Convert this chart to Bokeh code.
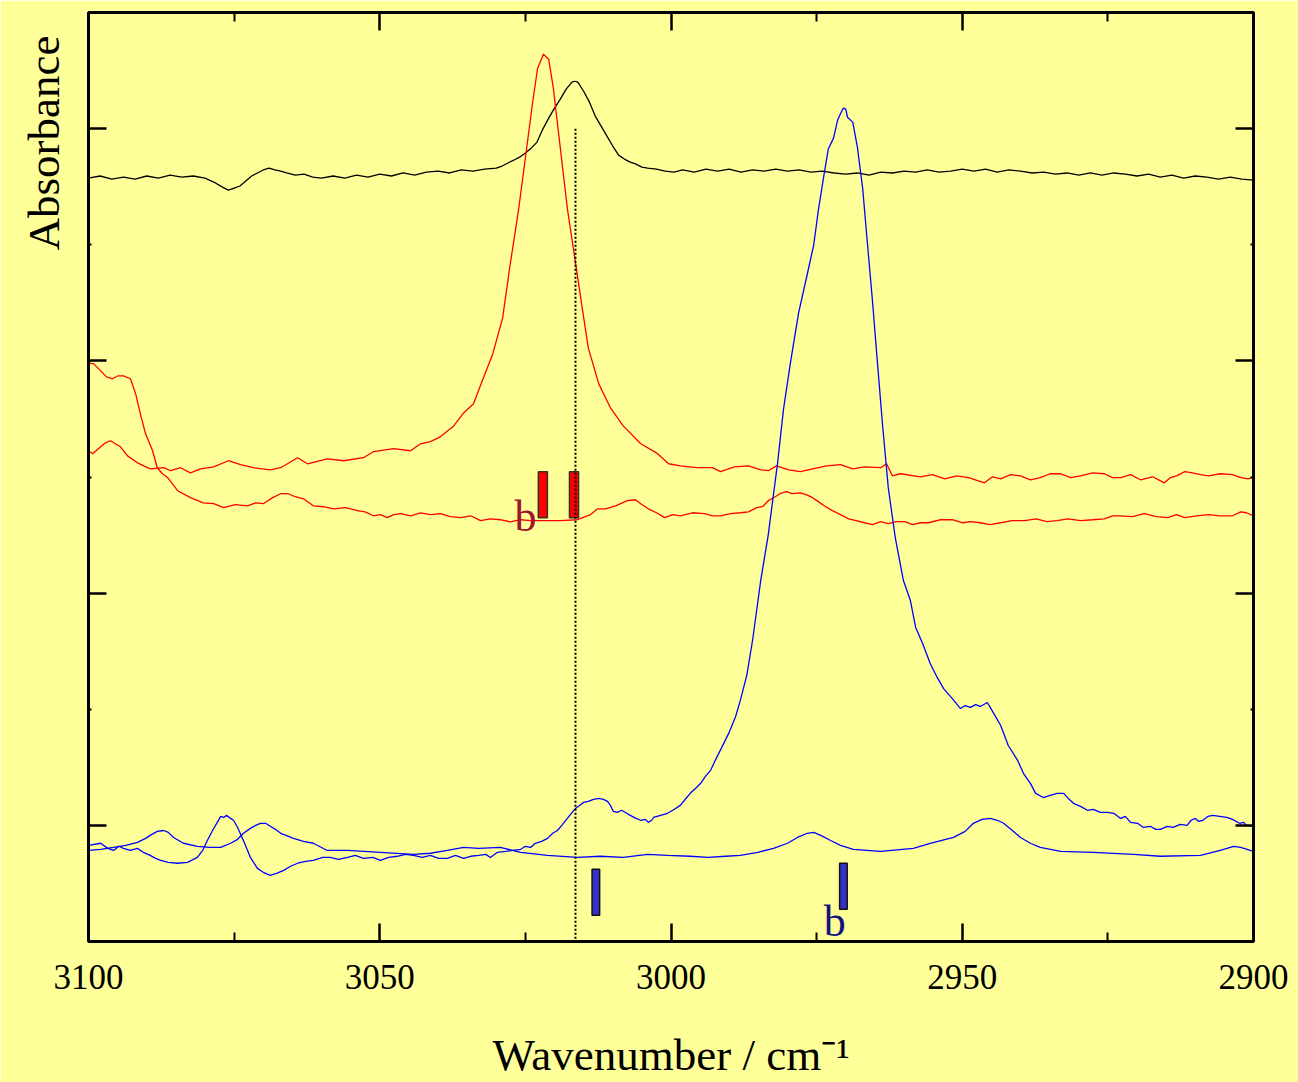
from bokeh.plotting import figure
from bokeh.models import Range1d, FixedTicker, LinearAxis, Title
from bokeh.core.properties import value
from bokeh.embed import file_html
from bokeh.resources import INLINE

FONT = "Liberation Serif"
BG = "#FFFF99"

# ---------------- axis ticks ----------------
x_major = [3100, 3050, 3000, 2950, 2900]
x_minor = [3075, 3025, 2975, 2925]
y_major = [0, 1, 2, 3]
y_minor = [0.5, 1.5, 2.5]

# ---------------- spectra (wavenumber, absorbance a.u.) ----------------
black_pts = [
    (3100, 2.787), (3098, 2.796), (3096, 2.783), (3094, 2.791), (3092, 2.783), (3090, 2.796),
    (3088, 2.787), (3086, 2.800), (3084, 2.791), (3082, 2.796), (3080, 2.787), (3078.5, 2.770),
    (3077, 2.748), (3076, 2.735), (3075, 2.744), (3074, 2.753), (3073, 2.774), (3072, 2.796),
    (3071, 2.809), (3070, 2.822), (3069, 2.830), (3068, 2.822), (3067, 2.817), (3066, 2.809),
    (3064.5, 2.800), (3063, 2.804), (3061.5, 2.791), (3060, 2.787), (3058, 2.796), (3056, 2.787),
    (3054, 2.800), (3052, 2.791), (3050, 2.804), (3048, 2.796), (3046, 2.809), (3044, 2.800),
    (3042, 2.813), (3040, 2.817), (3038, 2.809), (3036, 2.822), (3034, 2.817), (3032, 2.826),
    (3030, 2.830), (3029, 2.839), (3028, 2.852), (3027, 2.864), (3026, 2.877), (3025, 2.895),
    (3024, 2.916), (3023, 2.942), (3022, 2.998), (3021, 3.045), (3020, 3.088), (3019, 3.127),
    (3018, 3.170), (3017, 3.200), (3016.5, 3.204), (3016, 3.200), (3015, 3.161), (3014, 3.114),
    (3013, 3.054), (3012, 3.011), (3011, 2.968), (3010, 2.925), (3009, 2.886), (3008, 2.869),
    (3007, 2.856), (3006, 2.847), (3005, 2.834), (3004, 2.830), (3002.5, 2.826), (3001, 2.817),
    (2999.5, 2.813), (2998, 2.822), (2996, 2.813), (2994, 2.826), (2992, 2.817), (2990, 2.826),
    (2988, 2.813), (2986, 2.822), (2984, 2.817), (2982, 2.826), (2980, 2.817), (2978, 2.822),
    (2976, 2.813), (2974, 2.817), (2972, 2.809), (2970, 2.804), (2968, 2.809), (2966, 2.800),
    (2964, 2.813), (2962, 2.809), (2960, 2.817), (2958, 2.813), (2956, 2.822), (2954, 2.813),
    (2952, 2.817), (2950, 2.826), (2948, 2.817), (2946, 2.826), (2944, 2.813), (2942, 2.822),
    (2940, 2.817), (2938, 2.809), (2936, 2.813), (2934, 2.804), (2932, 2.809), (2930, 2.800),
    (2928, 2.809), (2926, 2.800), (2924, 2.809), (2922, 2.804), (2920, 2.796), (2918, 2.804),
    (2916, 2.791), (2914, 2.800), (2912, 2.787), (2910, 2.796), (2908, 2.791), (2906, 2.783),
    (2904, 2.791), (2902, 2.783), (2900, 2.778),
]

red_peak_pts = [
    (3100, 1.613), (3099.3, 1.600), (3097.9, 1.630), (3097.1, 1.647), (3096.2, 1.656), (3095.4, 1.643),
    (3094.5, 1.630), (3093.3, 1.591), (3091.6, 1.561), (3089.4, 1.535), (3087.1, 1.540), (3085.9, 1.527),
    (3084.2, 1.540), (3082.5, 1.518), (3080.8, 1.535), (3078.5, 1.544), (3076.0, 1.570), (3073.9, 1.553),
    (3071.7, 1.540), (3068.8, 1.531), (3067.0, 1.540), (3064.1, 1.583), (3062.4, 1.557), (3059.0, 1.578),
    (3056.2, 1.570), (3052.8, 1.583), (3051.1, 1.609), (3047.6, 1.622), (3044.7, 1.613), (3043.0, 1.643),
    (3041.3, 1.652), (3039.6, 1.673), (3037.3, 1.720), (3035.6, 1.776), (3033.9, 1.815), (3032.4, 1.914),
    (3030.6, 2.030), (3028.9, 2.185), (3027.6, 2.417), (3026.2, 2.645), (3025.0, 2.873), (3023.8, 3.105),
    (3022.9, 3.260), (3021.9, 3.320), (3021.0, 3.299), (3020.2, 3.174), (3019.0, 2.916), (3017.8, 2.658),
    (3016.7, 2.473), (3015.5, 2.271), (3014.2, 2.056), (3012.4, 1.901), (3010.4, 1.798), (3008.2, 1.720),
    (3005.2, 1.643), (3002.5, 1.604), (3000.4, 1.557), (2998.4, 1.548), (2995.6, 1.540), (2992.9, 1.540),
    (2991.5, 1.523), (2989.1, 1.544), (2986.7, 1.548), (2984.6, 1.531), (2983.3, 1.527), (2981.9, 1.548),
    (2979.8, 1.531), (2977.8, 1.523), (2975.7, 1.535), (2973.3, 1.548), (2970.9, 1.553), (2968.8, 1.535),
    (2966.8, 1.544), (2964.0, 1.540), (2963.0, 1.557), (2962.0, 1.505), (2960.6, 1.514), (2957.2, 1.501),
    (2955.1, 1.510), (2953.0, 1.492), (2951.0, 1.505), (2948.9, 1.497), (2946.2, 1.475), (2944.8, 1.501),
    (2943.4, 1.492), (2941.7, 1.510), (2940.0, 1.505), (2938.3, 1.488), (2936.6, 1.497), (2934.9, 1.514),
    (2933.1, 1.514), (2931.4, 1.497), (2929.7, 1.505), (2927.6, 1.518), (2925.6, 1.514), (2924.2, 1.497),
    (2922.8, 1.497), (2921.1, 1.510), (2919.4, 1.488), (2917.3, 1.501), (2915.3, 1.475), (2914.3, 1.497),
    (2913.2, 1.505), (2911.8, 1.523), (2910.5, 1.518), (2909.1, 1.510), (2907.7, 1.505), (2905.7, 1.514),
    (2903.6, 1.510), (2902.2, 1.497), (2900.9, 1.492), (2900.0, 1.501),
]

red_low_pts = [
    (3100, 1.991), (3099.1, 1.987), (3097.9, 1.957), (3096.9, 1.931), (3095.9, 1.923), (3095.0, 1.935),
    (3094.0, 1.935), (3092.8, 1.923), (3091.9, 1.858), (3091.1, 1.772), (3090.2, 1.686), (3089.0, 1.613),
    (3088.2, 1.540), (3087.3, 1.514), (3086.4, 1.497), (3084.7, 1.441), (3082.5, 1.411), (3080.3, 1.389),
    (3078.5, 1.385), (3076.8, 1.368), (3074.8, 1.381), (3072.7, 1.376), (3071.3, 1.389), (3070.0, 1.385),
    (3068.4, 1.411), (3067.0, 1.428), (3065.7, 1.428), (3064.5, 1.415), (3063.1, 1.406), (3061.4, 1.376),
    (3059.7, 1.372), (3057.9, 1.363), (3055.9, 1.368), (3053.8, 1.355), (3052.5, 1.350), (3051.1, 1.333),
    (3049.9, 1.338), (3048.7, 1.325), (3047.6, 1.338), (3046.4, 1.342), (3044.7, 1.333), (3043.0, 1.346),
    (3041.3, 1.338), (3039.6, 1.342), (3037.9, 1.329), (3036.1, 1.325), (3034.4, 1.333), (3032.7, 1.312),
    (3031.0, 1.320), (3029.3, 1.316), (3027.6, 1.307), (3025.8, 1.316), (3024.1, 1.312), (3021.5, 1.312),
    (3019.0, 1.312), (3016.1, 1.316), (3014.7, 1.329), (3013.8, 1.338), (3012.6, 1.363), (3011.2, 1.363),
    (3009.5, 1.376), (3007.5, 1.398), (3006.1, 1.402), (3005.2, 1.385), (3003.9, 1.363), (3002.5, 1.346),
    (3001.1, 1.325), (2999.7, 1.338), (2998.4, 1.333), (2996.3, 1.346), (2994.2, 1.342), (2992.9, 1.333),
    (2991.5, 1.333), (2989.8, 1.342), (2988.1, 1.346), (2986.7, 1.350), (2985.3, 1.368), (2984.3, 1.372),
    (2983.3, 1.398), (2982.1, 1.415), (2981.3, 1.428), (2980.2, 1.437), (2979.2, 1.428), (2977.8, 1.432),
    (2976.8, 1.424), (2975.7, 1.411), (2974.7, 1.394), (2973.7, 1.376), (2972.3, 1.355), (2970.9, 1.338),
    (2969.5, 1.320), (2968.2, 1.312), (2966.8, 1.303), (2965.4, 1.295), (2964.0, 1.308), (2962.7, 1.299),
    (2961.3, 1.308), (2959.9, 1.308), (2958.5, 1.295), (2957.2, 1.303), (2955.8, 1.303), (2953.7, 1.316),
    (2951.7, 1.316), (2949.9, 1.303), (2948.6, 1.308), (2946.9, 1.303), (2945.2, 1.295), (2943.4, 1.303),
    (2941.4, 1.312), (2939.3, 1.312), (2937.3, 1.320), (2935.5, 1.308), (2933.8, 1.312), (2931.8, 1.320),
    (2929.7, 1.312), (2927.6, 1.316), (2925.6, 1.320), (2924.2, 1.333), (2922.8, 1.333), (2920.8, 1.329),
    (2918.7, 1.342), (2916.7, 1.329), (2914.7, 1.325), (2913.2, 1.338), (2911.8, 1.325), (2909.8, 1.333),
    (2907.7, 1.338), (2905.7, 1.333), (2903.6, 1.333), (2902.2, 1.350), (2901.2, 1.346), (2900.0, 1.333),
]

blue_peak_pts = [
    (3100, -0.086), (3097.9, -0.077), (3096.7, -0.099), (3095.7, -0.108), (3094.8, -0.090), (3094.0, -0.099),
    (3092.8, -0.108), (3091.6, -0.099), (3090.6, -0.116), (3089.4, -0.129), (3088.5, -0.142), (3087.6, -0.151),
    (3086.3, -0.159), (3084.7, -0.163), (3083.0, -0.159), (3081.3, -0.138), (3080.4, -0.108), (3079.6, -0.065),
    (3078.7, -0.022), (3077.9, 0.013), (3077.3, 0.039), (3076.8, 0.034), (3076.3, 0.043), (3075.6, 0.030),
    (3075.1, 0.022), (3074.4, -0.009), (3073.4, -0.065), (3072.2, -0.138), (3071.0, -0.185), (3070.0, -0.202),
    (3068.8, -0.215), (3067.6, -0.206), (3066.5, -0.194), (3065.3, -0.176), (3064.1, -0.163), (3062.7, -0.155),
    (3061.4, -0.151), (3059.8, -0.138), (3058.5, -0.138), (3057.1, -0.146), (3055.5, -0.138), (3054.2, -0.129),
    (3052.8, -0.142), (3051.2, -0.138), (3049.9, -0.151), (3048.5, -0.138), (3047.0, -0.133), (3045.6, -0.125),
    (3044.2, -0.129), (3042.7, -0.138), (3041.3, -0.129), (3039.9, -0.142), (3038.4, -0.142), (3037.0, -0.129),
    (3035.6, -0.142), (3034.4, -0.133), (3033.0, -0.129), (3031.8, -0.125), (3031.0, -0.138), (3029.8, -0.116),
    (3028.4, -0.112), (3027.2, -0.108), (3025.8, -0.103), (3025.0, -0.090), (3024.1, -0.095), (3023.3, -0.077),
    (3022.2, -0.069), (3021.2, -0.056), (3020.3, -0.034), (3019.5, -0.022), (3018.6, 0.004), (3017.8, 0.030),
    (3017.1, 0.052), (3016.4, 0.073), (3015.7, 0.086), (3015.0, 0.099), (3014.2, 0.103), (3013.3, 0.112),
    (3012.4, 0.116), (3011.6, 0.112), (3010.9, 0.103), (3010.4, 0.086), (3009.9, 0.060), (3009.2, 0.056),
    (3008.5, 0.065), (3007.6, 0.052), (3007.0, 0.043), (3006.0, 0.030), (3005.2, 0.022), (3004.4, 0.026),
    (3003.9, 0.013), (3003.3, 0.022), (3003.0, 0.034), (3001.8, 0.043), (3000.6, 0.052), (2999.7, 0.065),
    (2998.4, 0.086), (2997.3, 0.120), (2996.7, 0.138), (2995.8, 0.159), (2994.9, 0.181), (2994.1, 0.211),
    (2993.2, 0.237), (2992.4, 0.280), (2991.2, 0.340), (2990.1, 0.396), (2988.9, 0.469), (2988.1, 0.538),
    (2987.0, 0.645), (2986.0, 0.796), (2984.6, 1.054), (2983.3, 1.252), (2981.7, 1.561), (2980.7, 1.789),
    (2979.5, 1.991), (2978.1, 2.206), (2976.6, 2.374), (2975.5, 2.499), (2974.7, 2.649), (2973.8, 2.791),
    (2973.0, 2.912), (2972.1, 2.959), (2971.4, 3.037), (2970.7, 3.075), (2970.4, 3.088), (2970.0, 3.084),
    (2969.7, 3.049), (2968.8, 3.028), (2968.0, 2.920), (2967.1, 2.744), (2966.3, 2.512), (2965.4, 2.254),
    (2964.5, 1.974), (2963.7, 1.729), (2962.7, 1.454), (2961.5, 1.239), (2960.1, 1.054), (2958.9, 0.968),
    (2958.0, 0.852), (2956.8, 0.783), (2955.5, 0.697), (2954.3, 0.637), (2953.2, 0.589), (2951.7, 0.546),
    (2950.3, 0.503), (2949.5, 0.516), (2948.6, 0.508), (2947.7, 0.520), (2946.9, 0.512), (2946.0, 0.525),
    (2945.7, 0.529), (2945.2, 0.508), (2944.6, 0.482), (2943.4, 0.430), (2942.1, 0.344), (2940.5, 0.280),
    (2939.5, 0.224), (2938.3, 0.181), (2937.4, 0.138), (2936.1, 0.120), (2934.9, 0.129), (2933.7, 0.138),
    (2932.6, 0.138), (2931.8, 0.116), (2930.9, 0.095), (2929.7, 0.082), (2928.5, 0.065), (2927.5, 0.069),
    (2926.3, 0.056), (2925.1, 0.056), (2924.0, 0.052), (2922.8, 0.030), (2922.0, 0.039), (2921.1, 0.013),
    (2919.9, 0.009), (2918.9, -0.009), (2917.7, -0.004), (2916.8, -0.017), (2916.0, -0.017), (2914.8, -0.004),
    (2913.8, -0.009), (2912.6, 0.004), (2911.4, 0.000), (2910.7, 0.022), (2910.0, 0.030), (2909.4, 0.017),
    (2908.7, 0.022), (2907.8, 0.039), (2907.0, 0.043), (2905.8, 0.039), (2904.6, 0.034), (2903.6, 0.026),
    (2902.4, 0.009), (2901.7, 0.013), (2901.2, 0.000), (2900.0, -0.004),
]

blue_low_pts = [
    (3100, -0.108), (3097.9, -0.103), (3095.7, -0.095), (3093.6, -0.086), (3091.6, -0.073), (3090.2, -0.056),
    (3089.4, -0.043), (3088.2, -0.026), (3087.1, -0.022), (3086.3, -0.030), (3085.4, -0.052), (3083.7, -0.077),
    (3081.3, -0.090), (3079.1, -0.095), (3077.3, -0.095), (3075.6, -0.077), (3074.4, -0.060), (3073.4, -0.034),
    (3072.2, -0.013), (3071.3, 0.000), (3070.5, 0.009), (3069.6, 0.009), (3068.8, -0.004), (3067.9, -0.017),
    (3067.0, -0.034), (3064.8, -0.056), (3063.1, -0.069), (3061.4, -0.077), (3059.0, -0.108), (3055.5, -0.108),
    (3049.9, -0.116), (3044.2, -0.125), (3041.3, -0.120), (3038.4, -0.108), (3035.6, -0.095), (3033.0, -0.099),
    (3029.3, -0.095), (3025.8, -0.116), (3021.2, -0.129), (3016.1, -0.138), (3012.1, -0.133), (3008.2, -0.138),
    (3004.0, -0.125), (3000.6, -0.129), (2996.7, -0.133), (2993.7, -0.138), (2990.6, -0.133), (2988.1, -0.129),
    (2985.1, -0.116), (2982.4, -0.099), (2980.0, -0.077), (2978.3, -0.052), (2976.6, -0.034), (2975.5, -0.030),
    (2974.3, -0.043), (2972.6, -0.065), (2970.9, -0.086), (2968.7, -0.103), (2964.0, -0.112), (2958.4, -0.099),
    (2955.5, -0.077), (2951.5, -0.052), (2949.5, -0.026), (2948.1, 0.009), (2946.6, 0.026), (2945.2, 0.030),
    (2944.0, 0.022), (2942.9, 0.009), (2941.4, -0.022), (2940.0, -0.052), (2938.3, -0.077), (2936.6, -0.095),
    (2933.1, -0.112), (2927.5, -0.116), (2920.6, -0.125), (2916.0, -0.133), (2909.1, -0.129), (2905.7, -0.108),
    (2903.4, -0.090), (2902.2, -0.095), (2900.0, -0.112),
]

# ---------------- band markers ----------------
red_bar_wn = [3022.0, 3016.65]
red_bar_lo = [1.325, 1.325]
red_bar_hi = [1.523, 1.523]
blue_bar_wn = [3012.9, 2970.4]
blue_bar_lo = [-0.387, -0.361]
blue_bar_hi = [-0.189, -0.163]
guide_wn = [3016.4, 3016.4]
guide_y = [3.0, -0.5]
b_label_wn = [3025.0, 2971.9]
b_label_y = [1.329, -0.413]
b_label_text = ["b", "b"]
b_label_color = ["#A0142D", "#14147F"]


def split(pts):
    return [q[0] for q in pts], [q[1] for q in pts]


p = figure(width=1298, height=1082, output_backend="svg", toolbar_location=None,
           x_range=Range1d(3100, 2900), y_range=Range1d(-0.5, 3.5),
           x_axis_location=None, y_axis_location=None,
           min_border_left=88, min_border_right=45, min_border_top=12, min_border_bottom=141,
           background_fill_color=BG, border_fill_color=BG,
           outline_line_color="black", outline_line_width=3)
p.grid.visible = False

bottom = LinearAxis()
left = LinearAxis()
top = LinearAxis()
right = LinearAxis()
p.add_layout(bottom, "below")
p.add_layout(left, "left")
p.add_layout(top, "above")
p.add_layout(right, "right")

for ax in [bottom, top]:
    ax.ticker = FixedTicker(ticks=x_major, minor_ticks=x_minor)
    ax.minor_tick_in = 9
for ax in [left, right]:
    ax.ticker = FixedTicker(ticks=y_major, minor_ticks=y_minor)
    ax.minor_tick_in = 3

for ax in [bottom, top, left, right]:
    ax.axis_line_width = 3
    ax.axis_line_color = "black"
    ax.major_tick_in = 18
    ax.major_tick_out = 0
    ax.minor_tick_out = 0
    ax.major_tick_line_width = 2.5
    ax.minor_tick_line_width = 2
    ax.major_tick_line_color = "black"
    ax.minor_tick_line_color = "black"

for ax in [top, left, right]:
    ax.major_label_text_font_size = "0px"
    ax.major_label_standoff = 0
    ax.major_label_overrides = {t: "" for t in ax.ticker.ticks}

bottom.major_label_text_font = FONT
bottom.major_label_text_font_size = "35px"
bottom.major_label_text_color = "black"
bottom.major_label_standoff = 23
bottom.axis_label = "Wavenumber / cm\u207b\u00b9"
bottom.axis_label_text_font = FONT
bottom.axis_label_text_font_size = "45px"
bottom.axis_label_text_font_style = "normal"
bottom.axis_label_text_color = "black"
bottom.axis_label_standoff = 38

ytitle = Title(text="Absorbance", align="right", vertical_align="top", offset=23, standoff=36,
               text_font=FONT, text_font_size="45px", text_font_style="normal", text_color="black")
p.add_layout(ytitle, "left")

# spectra
for pts, col in [(black_pts, "black"), (red_peak_pts, "#FF0000"), (red_low_pts, "#FF0000"),
                 (blue_peak_pts, "#0000FF"), (blue_low_pts, "#0000FF")]:
    xs, ys = split(pts)
    p.line(xs, ys, line_color=col, line_width=1.3)

# markers
p.quad(left=[w + 0.78 for w in red_bar_wn], right=[w - 0.78 for w in red_bar_wn],
       bottom=red_bar_lo, top=red_bar_hi, fill_color="#FF0000", line_color="#333322", line_width=1.5)
p.quad(left=[w + 0.65 for w in blue_bar_wn], right=[w - 0.65 for w in blue_bar_wn],
       bottom=blue_bar_lo, top=blue_bar_hi, fill_color="#3333CC", line_color="#111111", line_width=1.5)
p.line(guide_wn, guide_y, line_color="black", line_width=2, line_dash="2 2")
p.text(x=b_label_wn, y=b_label_y, text=b_label_text, text_color=b_label_color,
       text_font=value(FONT), text_font_size="44px", text_align="center", text_baseline="alphabetic")

open("out.html", "w").write(file_html(p, INLINE))
